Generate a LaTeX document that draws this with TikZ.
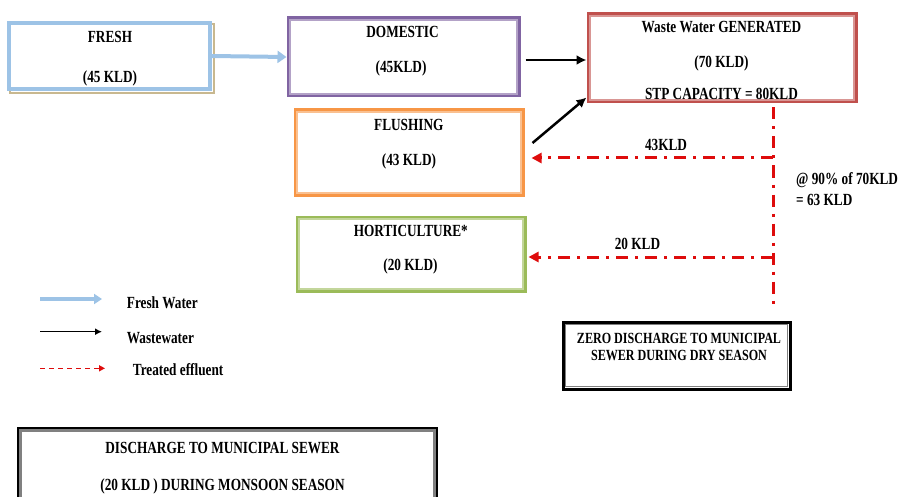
\documentclass[tikz,border=0pt]{standalone}
\usepackage{fontspec}
\setmainfont{Liberation Serif}[FakeStretch=0.78]
\usetikzlibrary{arrows.meta,positioning,backgrounds}
\definecolor{freshblue}{RGB}{157,195,230}
\definecolor{freshtan}{RGB}{200,184,143}
\definecolor{domout}{RGB}{128,100,162}
\definecolor{domin}{RGB}{179,162,199}
\definecolor{wasteout}{RGB}{192,80,77}
\definecolor{wastein}{RGB}{217,150,148}
\definecolor{flushout}{RGB}{247,150,70}
\definecolor{flushin}{RGB}{250,192,144}
\definecolor{hortout}{RGB}{155,187,89}
\definecolor{hortin}{RGB}{195,214,155}
\definecolor{effred}{RGB}{222,12,12}
\tikzset{font=\bfseries\fontsize{17}{20}\selectfont}
\tikzset{flowbox/.style={draw=#1, line width=3pt, inner sep=0pt}}
\tikzset{txt/.style={anchor=base, inner sep=0pt}}
\tikzset{freshflow/.style={draw=freshblue, line width=4pt,
    -{Triangle[length=9pt,width=12pt]}}}
\tikzset{wwflow/.style={draw=black, line width=2.5pt,
    -{Latex[length=10pt,width=10pt]}}}
\tikzset{treated/.style={draw=effred, line width=3pt,
    dash pattern=on 12pt off 7pt on 3pt off 7pt, -{Triangle[length=10pt,width=10pt]}}}

\begin{document}
\begin{tikzpicture}[x=1pt, y=-1pt]
  \useasboundingbox (0,0) rectangle (901,497);
  % boxes
  \node[flowbox=freshblue, line width=3.5pt, minimum width=201pt, minimum height=66pt] (fresh) at (109.5,56) {};
  \node[flowbox=domout, minimum width=231pt, minimum height=78pt] (dom) at (403.5,57) {};
  \node[flowbox=wasteout, minimum width=268pt, minimum height=88pt] (waste) at (722,58) {};
  \node[flowbox=flushout, minimum width=228pt, minimum height=85pt] (flush) at (409,152.5) {};
  \node[flowbox=hortout, minimum width=228pt, minimum height=74pt] (hort) at (411,254) {};
  \node[flowbox=black, minimum width=227pt, minimum height=67pt] (zero) at (676.5,355.5) {};
  \node[flowbox=black, line width=4pt, minimum width=417pt, minimum height=81pt] (disch) at (227.5,469.5) {};
  \begin{scope}[on background layer]
    \draw[freshtan, line width=2pt] ([xshift=2.5pt,yshift=-2.5pt]fresh.north west)
      rectangle ([xshift=2.5pt,yshift=-2.5pt]fresh.south east);
  \end{scope}
  \foreach \bx/\col/\d/\w in {dom/domin/3.5/1.2, waste/wastein/3.5/1.5, flush/flushin/3.5/1.5,
      hort/hortin/3.5/1.5, zero/gray/4/1.5, disch/gray/3.5/3}
    \draw[\col, line width=\w pt] ([xshift=\d pt,yshift=-\d pt]\bx.north west)
      rectangle ([xshift=-\d pt,yshift=\d pt]\bx.south east);

  % box texts
  \node[txt] (freshA) at (110,43) {FRESH};
  \node[txt] (freshB) at (110,83) {(45 KLD)};
  \node[txt] (domA) at (402.5,38) {DOMESTIC};
  \node[txt] (domB) at (401,72.5) {(45KLD)};
  \node[txt] (wasteA) at (721.5,33) {Waste Water GENERATED};
  \node[txt] (wasteB) at (721.5,67.5) {(70 KLD)};
  \node[txt] (wasteC) at (721.5,100) {STP CAPACITY = 80KLD};
  \node[txt] (flushA) at (408.8,130.5) {FLUSHING};
  \node[txt] (flushB) at (409,165) {(43 KLD)};
  \node[txt] (hortA) at (410.8,236.5) {HORTICULTURE*};
  \node[txt] (hortB) at (410.5,270.5) {(20 KLD)};
  \node[txt, font=\bfseries\fontsize{15.5}{18}\selectfont] (zeroA) at (679,343) {ZERO DISCHARGE TO MUNICIPAL};
  \node[txt, font=\bfseries\fontsize{15.5}{18}\selectfont] (zeroB) at (679,360) {SEWER DURING DRY SEASON};
  \node[txt] (dischA) at (222.5,453) {DISCHARGE TO MUNICIPAL SEWER};
  \node[txt] (dischB) at (222.5,490) {(20 KLD ) DURING MONSOON SEASON};

  % flows
  \draw[freshflow] (fresh.east) -- (dom.west);
  \draw[wwflow] ([xshift=5pt,yshift=-3pt]dom.east) -- ([yshift=-2pt]waste.west);
  \draw[wwflow] ([xshift=8pt,yshift=9.5pt]flush.east) -- ([yshift=6pt]waste.south west);

  % treated effluent
  \coordinate (tee) at (773,310);
  \coordinate (j1) at (773,158);
  \coordinate (j2) at (773,257);
  \coordinate (f1) at (flush.east |- j1);
  \coordinate (h1) at (hort.east |- j2);
  \draw[treated, -] ([yshift=-4pt]waste.south -| tee) -- (tee);
  \draw[treated] (j1) -- ([xshift=7pt]f1);
  \draw[treated] (j2) -- ([xshift=2pt]h1);
  \node[txt] (lab43) at (666,150) {43KLD};
  \node[txt] (lab20) at (637.5,249) {20 KLD};
  \node[txt, anchor=base west] (pctA) at (796,185) {@ 90\% of 70KLD};
  \node[txt, anchor=base west] (pctB) at (796,205) {= 63 KLD};

  % legend
  \coordinate (lg1a) at (40,299);
  \coordinate (lg1b) at (102,299);
  \coordinate (lg2a) at (40,331.7);
  \coordinate (lg2b) at (102,331.7);
  \coordinate (lg3a) at (40,368.3);
  \coordinate (lg3b) at (105,368.3);
  \draw[freshflow, -{Triangle[length=8pt,width=10pt]}] (lg1a) -- (lg1b);
  \draw[black, line width=1.5pt, -{Latex[length=7pt,width=7pt]}] (lg2a) -- (lg2b);
  \draw[effred, line width=1.5pt, dash pattern=on 5pt off 4pt,
    -{Triangle[length=6pt,width=6pt]}] (lg3a) -- (lg3b);
  \node[txt, anchor=base west] (lgA) at (126.7,308) {Fresh Water};
  \node[txt, anchor=base west] (lgB) at (126.7,343) {Wastewater};
  \node[txt, anchor=base west] (lgC) at (132.7,375) {Treated effluent};
\end{tikzpicture}
\end{document}
